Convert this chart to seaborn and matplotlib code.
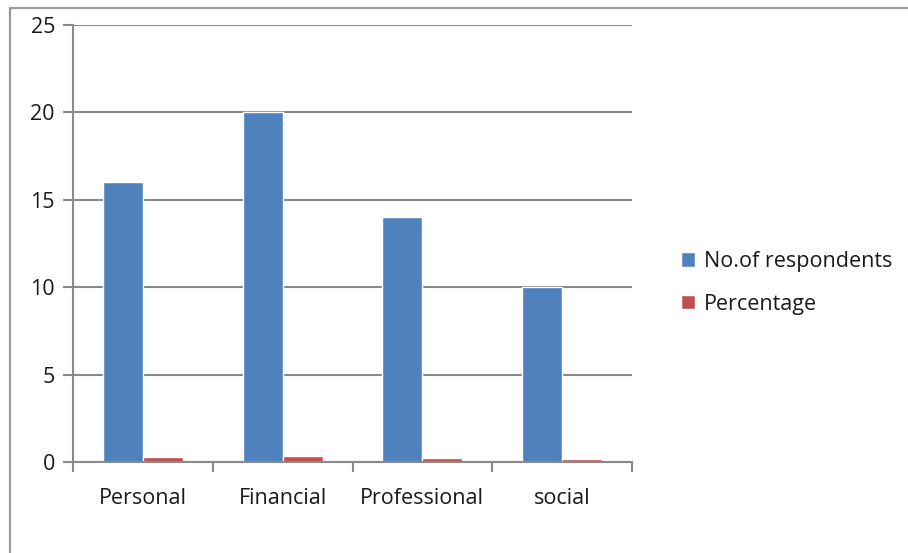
import matplotlib
matplotlib.use("Agg")
import matplotlib.pyplot as plt
import seaborn as sns
import pandas as pd
from matplotlib.patches import Rectangle
from matplotlib.ticker import FixedLocator

categories = ["Personal", "Financial", "Professional", "social"]
respondents = [16, 20, 14, 10]
percentage = [0.27, 0.33, 0.23, 0.17]
series_names = ["No.of respondents", "Percentage"]
y_ticks = [0, 5, 10, 15, 20, 25]

df = pd.DataFrame({
    "category": categories * 2,
    "value": respondents + percentage,
    "series": [series_names[0]] * len(categories) + [series_names[1]] * len(categories),
})

sns.set_theme(style="white")
plt.rcParams["font.family"] = ["Open Sans", "DejaVu Sans"]

W, H = 908, 553
fig = plt.figure(figsize=(W / 100, H / 100), dpi=100)
fig.patch.set_facecolor("white")

# outer chart-area frame
fig.patches.append(Rectangle((10 / W, -0.1), 1.2, 1 - 8 / H + 0.1,
                             transform=fig.transFigure, fill=False,
                             edgecolor="#9a9a9a", linewidth=1.6))

ax = fig.add_axes([73 / W, 1 - 462 / H, (632 - 73) / W, (462 - 25) / H])
palette = {series_names[0]: "#4F81BD", series_names[1]: "#C0504D"}
sns.barplot(data=df, x="category", y="value", hue="series", palette=palette,
            width=0.574, gap=0, saturation=1, ax=ax, legend=True)

ax.set_ylim(0, 25)
ax.set_xlim(-0.5, len(categories) - 0.5)
ax.set_yticks(y_ticks)
ax.yaxis.grid(True, color="#8a8a8a", linewidth=1.5)
ax.set_axisbelow(True)
for s in ["top", "right"]:
    ax.spines[s].set_visible(False)
for s in ["left", "bottom"]:
    ax.spines[s].set_color("#8a8a8a")
    ax.spines[s].set_linewidth(1.5)

FS = 15.5
TXT = "#1a1a1a"
ax.tick_params(axis="y", which="major", left=True, length=7, width=1.5,
               color="#8a8a8a", labelsize=FS, pad=6, labelcolor=TXT)
ax.tick_params(axis="x", which="major", bottom=False, labelsize=FS,
               pad=13, labelcolor=TXT)
ax.xaxis.set_minor_locator(FixedLocator([i - 0.5 for i in range(len(categories) + 1)]))
ax.tick_params(axis="x", which="minor", bottom=True, length=7, width=1.5,
               color="#8a8a8a")
ax.set_xlabel("")
ax.set_ylabel("")

leg = ax.legend(loc="center left", bbox_to_anchor=(672 / W, 1 - 283 / H),
                bbox_transform=fig.transFigure, frameon=False, fontsize=FS,
                handlelength=0.65, handleheight=0.65, handletextpad=0.45,
                labelspacing=1.0, borderaxespad=0)
for t in leg.get_texts():
    t.set_color(TXT)

fig.savefig("out.png", dpi=100, facecolor="white")
